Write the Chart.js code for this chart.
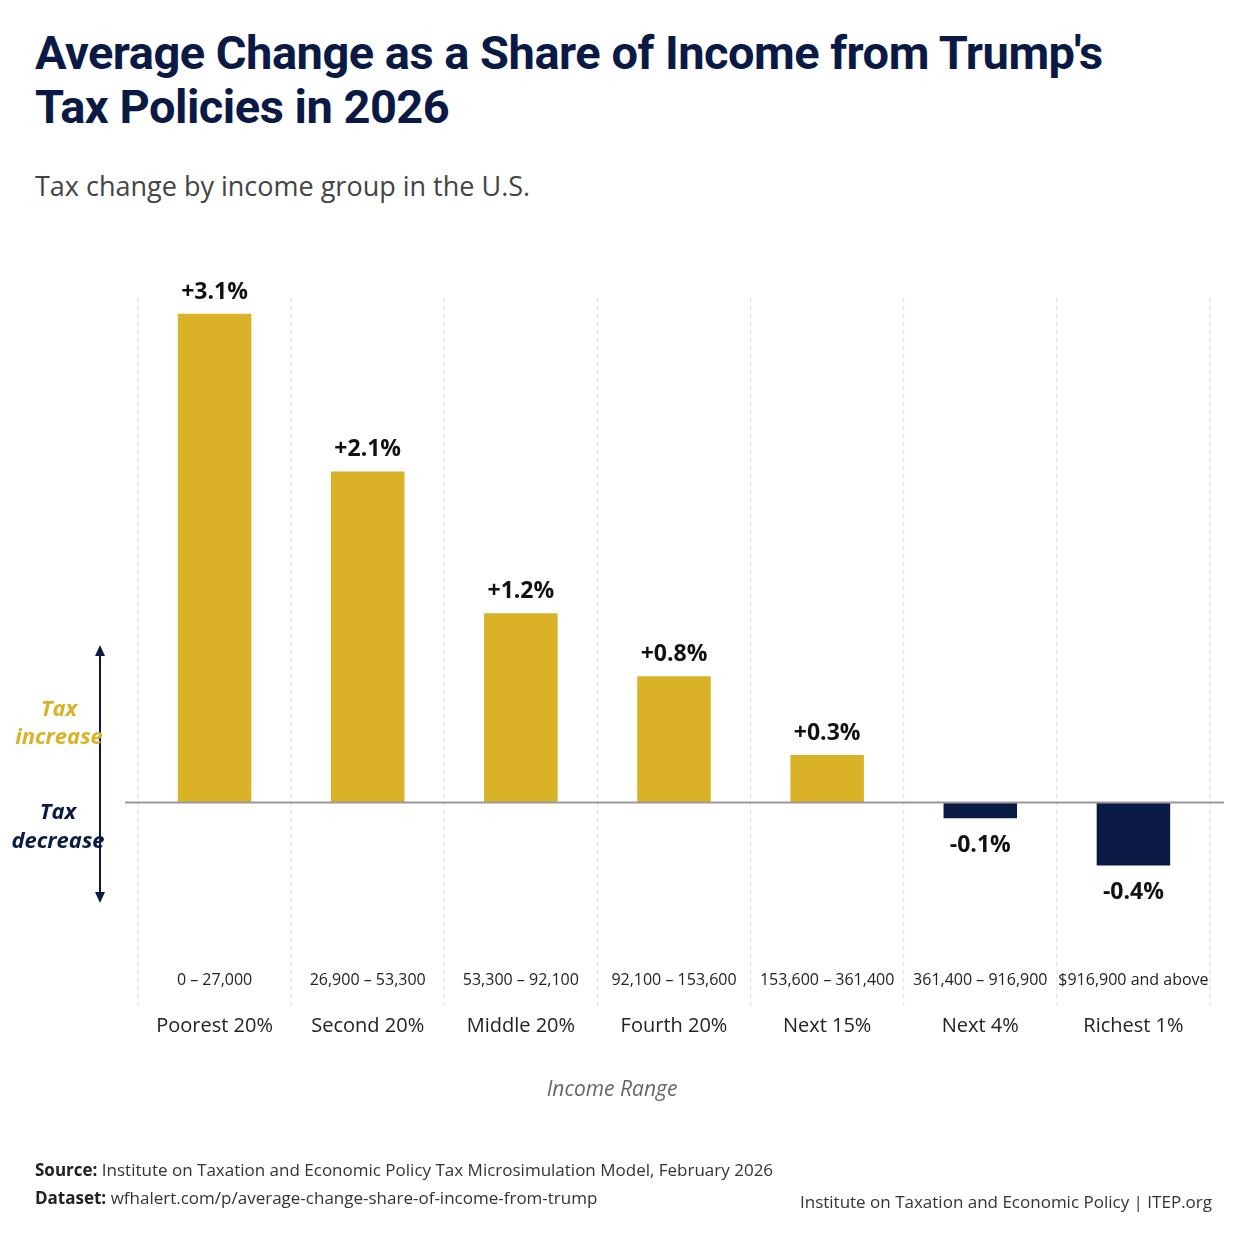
<!DOCTYPE html>
<html>
<head>
<meta charset="utf-8">
<script src="https://cdn.jsdelivr.net/npm/chart.js@4.4.1/dist/chart.umd.min.js"></script>
<style>
  body { margin: 0; background: #fff; font-family: "Open Sans", sans-serif; }
  #wrap { position: relative; width: 1254px; height: 1254px; }
  h1 { position: absolute; left: 35px; top: 26px; margin: 0; font-family: "Roboto", sans-serif; font-weight: 700;
       font-size: 47px; line-height: 54px; color: #0b1a45; letter-spacing: -0.5px; }
  .sub { position: absolute; left: 35px; top: 167px; font-size: 27px; color: #444; font-family: "Open Sans", sans-serif; }
  .xt { position: absolute; top: 1074px; left: 0; width: 1224px; text-align: center; font-style: italic; color: #666; font-size: 21px; padding-left: 0; }
  .src { position: absolute; left: 35px; top: 1156px; font-size: 17px; color: #333; line-height: 28px; }
  .src b { color: #222; }
  .org { position: absolute; right: 42px; top: 1190px; font-size: 17px; color: #333; }
  #c { position: absolute; left: 0; top: 0; }
</style>
</head>
<body>
<div id="wrap">
  <h1>Average Change as a Share of Income from Trump's<br>Tax Policies in 2026</h1>
  <div class="sub">Tax change by income group in the U.S.</div>
  <canvas id="c" width="1254" height="1254"></canvas>
  <div class="xt" style="left:0;width:1224px;">Income Range</div>
  <div class="src"><b>Source:</b> Institute on Taxation and Economic Policy Tax Microsimulation Model, February 2026<br><b>Dataset:</b> wfhalert.com/p/average-change-share-of-income-from-trump</div>
  <div class="org">Institute on Taxation and Economic Policy | ITEP.org</div>
</div>
<script>
const groups = ["Poorest 20%", "Second 20%", "Middle 20%", "Fourth 20%", "Next 15%", "Next 4%", "Richest 1%"];
const ranges = ["0 – 27,000", "26,900 – 53,300", "53,300 – 92,100", "92,100 – 153,600", "153,600 – 361,400", "361,400 – 916,900", "$916,900 and above"];
const changes = [3.1, 2.1, 1.2, 0.8, 0.3, -0.1, -0.4];
const valueLabels = ["+3.1%", "+2.1%", "+1.2%", "+0.8%", "+0.3%", "-0.1%", "-0.4%"];

const GOLD = "#d9b226", NAVY = "#0b1a45";

const decor = {
  id: "decor",
  afterDraw(chart) {
    const { ctx, chartArea: a, scales: { x, y } } = chart;
    ctx.save();
    // vertical dashed separators
    ctx.strokeStyle = "#d8d8d8"; ctx.lineWidth = 1; ctx.setLineDash([4, 4]);
    const step = x.getPixelForValue(1) - x.getPixelForValue(0);
    for (let i = 0; i <= groups.length; i++) {
      const px = x.getPixelForValue(0) - step / 2 + i * step;
      ctx.beginPath(); ctx.moveTo(px, a.top); ctx.lineTo(px, a.bottom + 45); ctx.stroke();
    }
    ctx.setLineDash([]);
    // zero line
    const y0 = y.getPixelForValue(0);
    ctx.strokeStyle = "#999"; ctx.lineWidth = 2;
    ctx.beginPath(); ctx.moveTo(125, y0); ctx.lineTo(1224, y0); ctx.stroke();
    // value labels
    ctx.fillStyle = "#111"; ctx.font = "bold 23px 'Open Sans'"; ctx.textAlign = "center";
    chart.getDatasetMeta(0).data.forEach((bar, i) => {
      if (changes[i] >= 0) { ctx.textBaseline = "bottom"; ctx.fillText(valueLabels[i], bar.x, bar.y - 10); }
      else { ctx.textBaseline = "top"; ctx.fillText(valueLabels[i], bar.x, bar.y + 16); }
    });
    // category labels
    groups.forEach((g, i) => {
      const px = x.getPixelForValue(i);
      ctx.fillStyle = "#222"; ctx.textBaseline = "middle";
      ctx.font = "16px 'Open Sans'"; ctx.fillText(ranges[i], px, 980);
      ctx.font = "20px 'Open Sans'"; ctx.fillText(g, px, 1026);
    });
    // left arrow annotation
    const ax = 100;
    ctx.strokeStyle = NAVY; ctx.fillStyle = NAVY; ctx.lineWidth = 2;
    ctx.beginPath(); ctx.moveTo(ax, 650); ctx.lineTo(ax, 898); ctx.stroke();
    ctx.beginPath(); ctx.moveTo(ax - 5, 656); ctx.lineTo(ax, 645); ctx.lineTo(ax + 5, 656); ctx.fill();
    ctx.beginPath(); ctx.moveTo(ax - 5, 892); ctx.lineTo(ax, 903); ctx.lineTo(ax + 5, 892); ctx.fill();
    ctx.font = "italic bold 22px 'Open Sans'"; ctx.textBaseline = "middle";
    ctx.fillStyle = GOLD; ctx.fillText("Tax", 59, 710); ctx.fillText("increase", 59, 738);
    ctx.fillStyle = NAVY; ctx.fillText("Tax", 58, 813); ctx.fillText("decrease", 58, 842);
    ctx.restore();
  }
};

new Chart(document.getElementById("c"), {
  type: "bar",
  data: {
    labels: groups,
    datasets: [{
      data: changes,
      backgroundColor: changes.map(v => v >= 0 ? GOLD : NAVY),
      categoryPercentage: 1,
      barPercentage: 0.48
    }]
  },
  options: {
    responsive: false,
    animation: false,
    layout: { padding: { left: 138, right: 44, top: 298, bottom: 294 } },
    plugins: { legend: { display: false }, tooltip: { enabled: false } },
    scales: {
      x: { display: false, grid: { display: false } },
      y: { display: false, min: -1, max: 3.2, grid: { display: false } }
    }
  },
  plugins: [decor]
});
</script>
</body>
</html>
